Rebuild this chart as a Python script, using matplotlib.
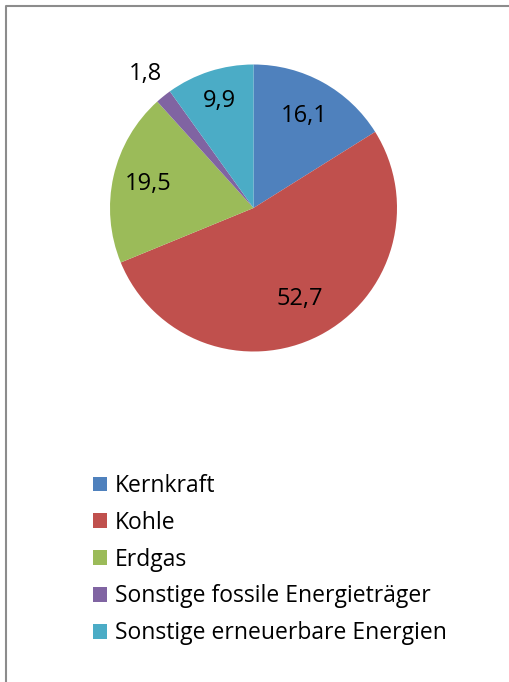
import matplotlib
matplotlib.use('Agg')
from matplotlib import pyplot as plt
from matplotlib.lines import Line2D
import numpy as np

categories = ['Kernkraft', 'Kohle', 'Erdgas',
              'Sonstige fossile Energieträger', 'Sonstige erneuerbare Energien']
shares = [16.1, 52.7, 19.5, 1.8, 9.9]
colors = ['#4F81BD', '#C0504D', '#9BBB59', '#8064A2', '#4BACC6']
# radial placement of the value labels (fraction of radius)
label_dist = [0.73, 0.71, 0.75, 1.20, 0.78]

plt.rcParams['font.family'] = ['Open Sans', 'DejaVu Sans']

W, H = 510, 682
fig = plt.figure(figsize=(W / 100, H / 100), dpi=100)

# chart frame: only the left and top edges are inside the picture
fx, fy = 6.5 / W, 1 - 5.5 / H
fig.add_artist(Line2D([fx, fx, 1.1], [-0.1, fy, fy], transform=fig.transFigure,
                      color='#8c8c8c', linewidth=1.5))

cx, cy, r = 253.5 / W, 1 - 208 / H, 143.5
ax = fig.add_axes([cx - r / W, cy - r / H, 2 * r / W, 2 * r / H])
wedges, _ = ax.pie(shares, colors=colors, startangle=90, counterclock=False,
                   wedgeprops=dict(linewidth=0))
ax.set_xlim(-1, 1)
ax.set_ylim(-1, 1)
ax.set_aspect('equal')
ax.axis('off')

for w, v, d in zip(wedges, shares, label_dist):
    ang = np.deg2rad((w.theta1 + w.theta2) / 2)
    ax.text(d * np.cos(ang), d * np.sin(ang), f'{v:.1f}'.replace('.', ','),
            ha='center', va='center', fontsize=17, color='black', clip_on=False)

fig.legend(wedges, categories, loc='upper left',
           bbox_to_anchor=(93 / W, 1 - 474 / H), frameon=False,
           fontsize=16.5, handlelength=0.61, handleheight=0.61,
           handletextpad=0.35, labelspacing=0.56, borderaxespad=0, borderpad=0)

fig.savefig('out.png', dpi=100)
